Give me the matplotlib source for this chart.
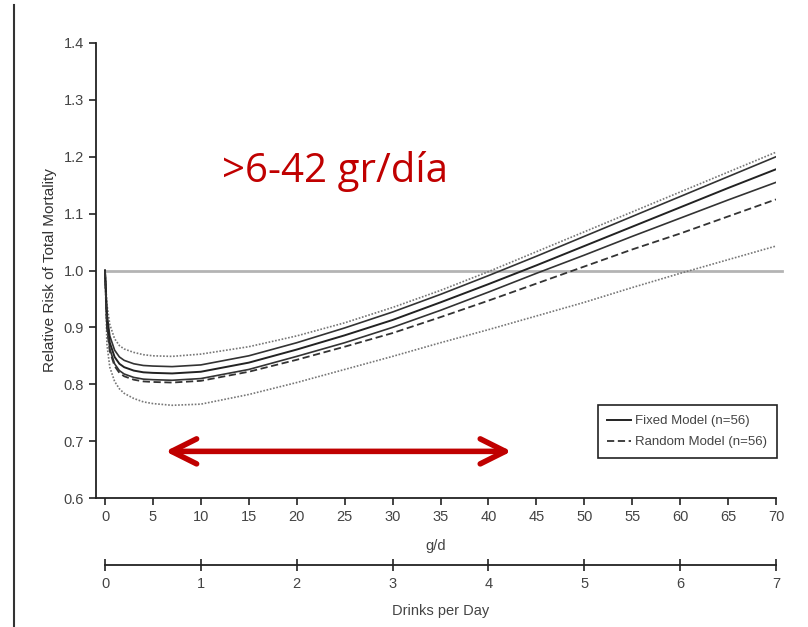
import matplotlib
matplotlib.use("Agg")
import matplotlib.pyplot as plt
from matplotlib.lines import Line2D

# fuente estrecha tipo Helvetica Narrow para los ejes
plt.rcParams['font.family'] = ['Liberation Sans Narrow', 'Liberation Sans', 'DejaVu Sans']

# ---- datos (g/d -> riesgo relativo) ----
grams = [0, 0.2, 0.5, 1, 1.5, 2, 3, 4, 5, 7, 10, 15, 20, 25, 30, 35, 40, 45, 50, 55, 60, 65, 70]

fixed_upper = [1.0, 0.925, 0.885, 0.860, 0.848, 0.842, 0.836, 0.833, 0.832, 0.831, 0.834, 0.850,
               0.873, 0.899, 0.927, 0.958, 0.991, 1.025, 1.060, 1.095, 1.130, 1.165, 1.200]
fixed_center = [1.0, 0.915, 0.873, 0.848, 0.836, 0.830, 0.824, 0.821, 0.820, 0.819, 0.822, 0.838,
                0.861, 0.886, 0.913, 0.944, 0.976, 1.009, 1.043, 1.077, 1.111, 1.145, 1.178]
fixed_lower = [1.0, 0.905, 0.862, 0.836, 0.824, 0.818, 0.812, 0.809, 0.808, 0.807, 0.810, 0.826,
               0.849, 0.873, 0.900, 0.930, 0.962, 0.995, 1.027, 1.060, 1.092, 1.124, 1.155]
random_center = [1.0, 0.900, 0.858, 0.832, 0.820, 0.814, 0.808, 0.805, 0.804, 0.803, 0.806, 0.822,
                 0.843, 0.866, 0.890, 0.918, 0.947, 0.977, 1.007, 1.037, 1.065, 1.095, 1.125]
random_upper = [1.0, 0.940, 0.905, 0.880, 0.868, 0.862, 0.856, 0.852, 0.850, 0.849, 0.853, 0.866,
                0.885, 0.908, 0.935, 0.965, 0.998, 1.033, 1.068, 1.103, 1.138, 1.173, 1.208]
random_lower = [1.0, 0.870, 0.830, 0.805, 0.792, 0.784, 0.775, 0.769, 0.766, 0.763, 0.765, 0.782,
                0.803, 0.826, 0.849, 0.873, 0.896, 0.920, 0.944, 0.970, 0.995, 1.019, 1.043]

g_ticks = list(range(0, 71, 5))
y_ticks = [0.6, 0.7, 0.8, 0.9, 1.0, 1.1, 1.2, 1.3, 1.4]
drink_ticks = list(range(0, 8))

range_text = '>6-42 gr/día'
range_limits = [6.3, 42.4]

W, H = 808, 627
fig = plt.figure(figsize=(W / 100, H / 100), dpi=100)

# borde de la diapositiva a la izquierda
fig.add_artist(Line2D([14 / W, 14 / W], [0, 1 - 5 / H], color='#333333', lw=1.5))

ax = fig.add_axes([96 / W, (H - 498) / H, 680 / W, 455 / H])
ax.set_xlim(-0.94, 70)
ax.set_ylim(0.6, 1.4)

# línea de referencia RR = 1
ax.plot([0, 70.6], [1.0, 1.0], color='#b4b4b4', lw=2, clip_on=False, zorder=1)

ax.plot(grams, random_upper, color='#777777', lw=1.2, ls=(0, (1, 1)), zorder=2)
ax.plot(grams, random_lower, color='#777777', lw=1.2, ls=(0, (1, 1)), zorder=2)
ax.plot(grams, fixed_upper, color='#333333', lw=1.2, zorder=3)
ax.plot(grams, fixed_lower, color='#333333', lw=1.2, zorder=3)
ax.plot(grams, fixed_center, color='#222222', lw=1.4, zorder=3, label='Fixed Model (n=56)')
ax.plot(grams, random_center, color='#333333', lw=1.3, ls=(0, (4, 2)), zorder=3,
        label='Random Model (n=56)')

for s in ['top', 'right']:
    ax.spines[s].set_visible(False)
for s in ['left', 'bottom']:
    ax.spines[s].set_linewidth(1.3)
    ax.spines[s].set_color('#222222')

ax.set_xticks(g_ticks)
ax.set_yticks(y_ticks)
ax.set_yticklabels(['%.1f' % v for v in y_ticks])
ax.tick_params(direction='out', length=5, width=1.2, colors='#222222', labelcolor='#444444',
               labelsize=10.5)
ax.set_xlabel('g/d', fontsize=10.5, color='#444444', labelpad=11)
ax.set_ylabel('Relative Risk of Total Mortality', fontsize=11, color='#333333', labelpad=5)

leg = ax.legend(loc='upper right', bbox_to_anchor=(1.0015, 0.204), fontsize=9.5, handlelength=1.8,
                handletextpad=0.3, borderpad=0.75, labelspacing=0.65, fancybox=False,
                framealpha=1, edgecolor='#222222', borderaxespad=0)
leg.get_frame().set_linewidth(1.2)
for t in leg.get_texts():
    t.set_color('#444444')

# texto y flecha roja añadidos a la diapositiva
ax.text(12.2, 1.155, range_text, fontsize=29, color='#C00000', family=['Open Sans', 'DejaVu Sans'],
        ha='left', va='baseline')
ax.annotate('', xy=(range_limits[1], 0.682), xytext=(range_limits[0], 0.682),
            arrowprops=dict(arrowstyle='<->,head_length=0.9,head_width=0.45', color='#C00000',
                            lw=4, shrinkA=0, shrinkB=0, mutation_scale=20,
                            capstyle='round', joinstyle='round'))

# segundo eje: bebidas por día
ax2 = fig.add_axes([105 / W, (H - 565) / H, 671 / W, 0.0001])
ax2.set_xlim(0, 7)
ax2.set_yticks([])
for s in ['top', 'right', 'left']:
    ax2.spines[s].set_visible(False)
ax2.spines['bottom'].set_linewidth(1.3)
ax2.spines['bottom'].set_color('#222222')
ax2.set_xticks(drink_ticks)
ax2.tick_params(direction='inout', length=8, width=1.2, colors='#222222', labelcolor='#444444',
                labelsize=10.5, pad=5)
ax2.set_xlabel('Drinks per Day', fontsize=10.5, color='#444444', labelpad=9)

fig.savefig('out.png', dpi=100)
